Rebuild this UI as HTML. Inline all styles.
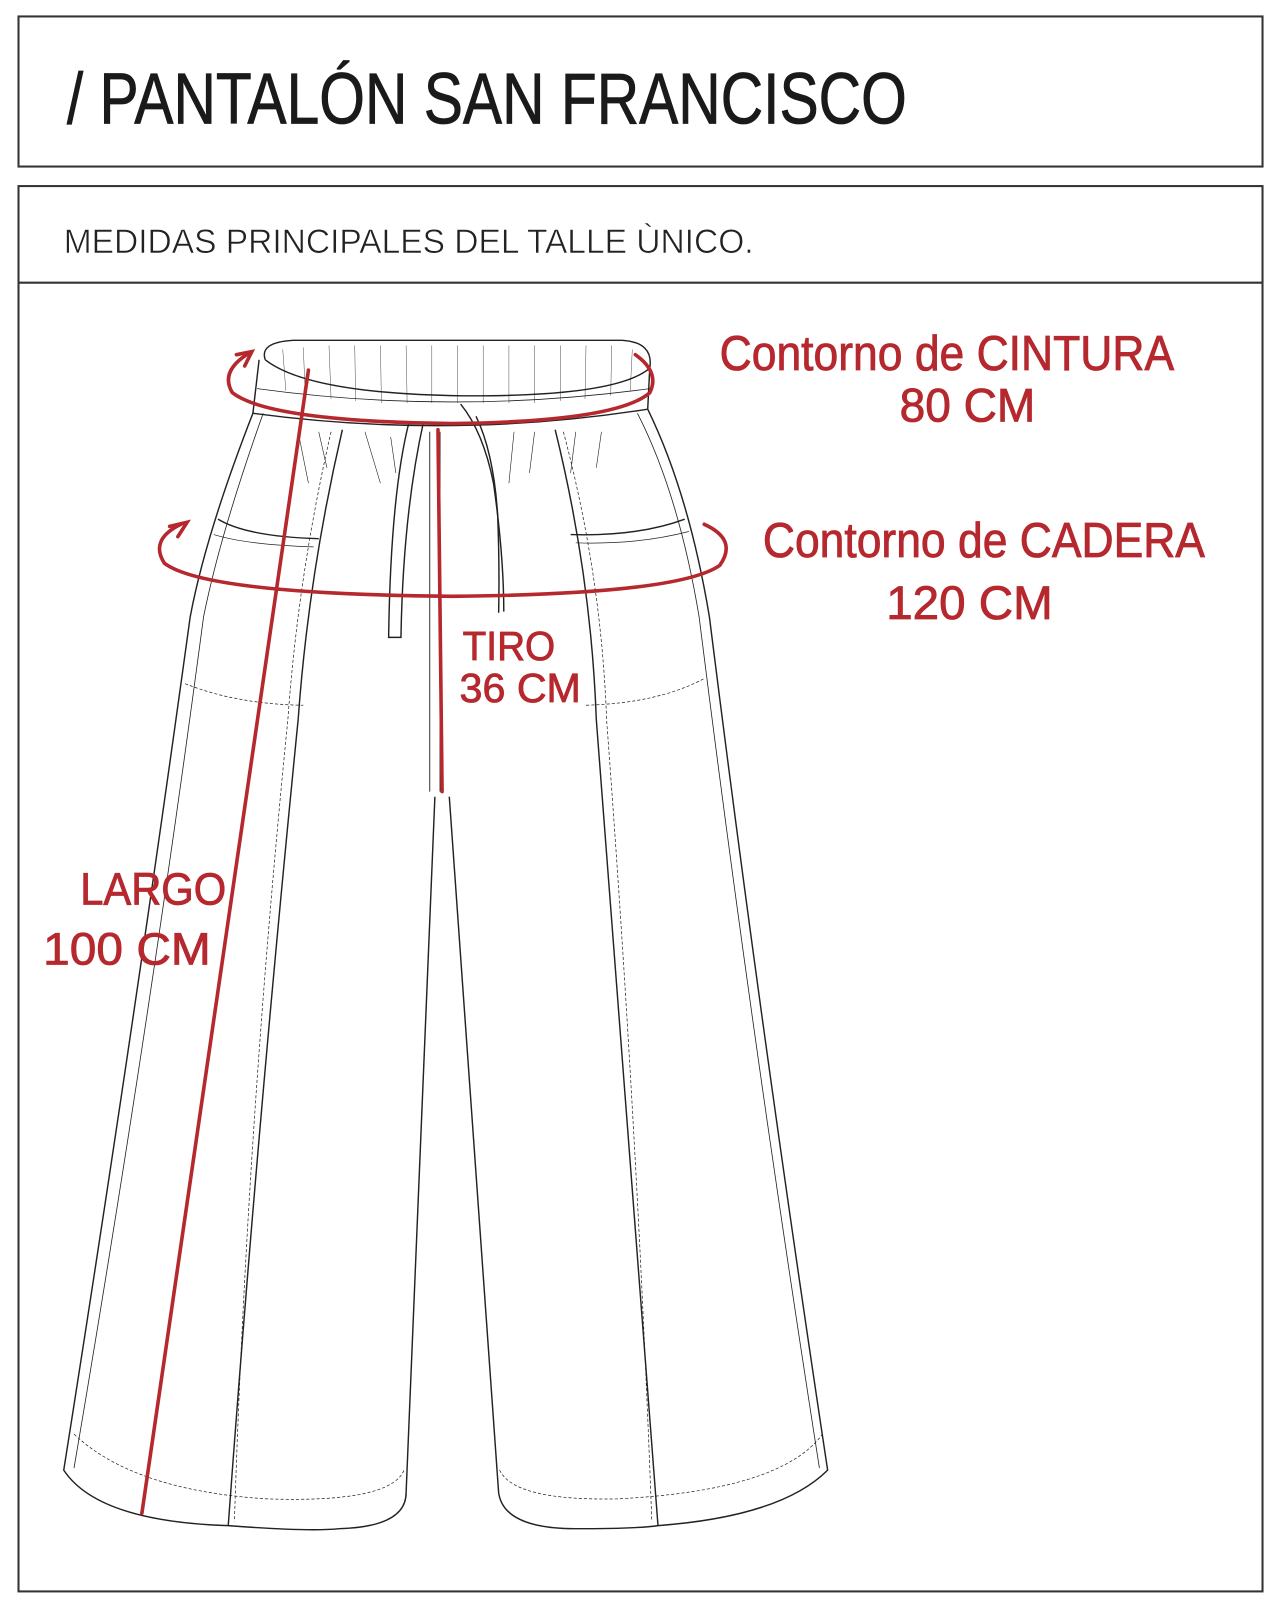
<!DOCTYPE html>
<html><head><meta charset="utf-8"><style>
html,body{margin:0;padding:0;background:#fff;}
svg{display:block;}
</style></head><body>
<svg width="1280" height="1613" viewBox="0 0 1245 1569" preserveAspectRatio="none" xmlns="http://www.w3.org/2000/svg">
<g fill="none" stroke="#333" stroke-width="2">
<rect x="18" y="16" width="1210" height="146"/>
<rect x="18" y="181" width="1210" height="1367"/>
<line x1="18" y1="275" x2="1228" y2="275"/>
</g>
<text x="65" y="120" font-family="Liberation Sans, sans-serif" font-size="70" fill="#1a1a1a" stroke="#1a1a1a" stroke-width="0.8" textLength="817" lengthAdjust="spacingAndGlyphs">/ PANTALÓN SAN FRANCISCO</text>
<text x="62" y="246" font-family="Liberation Sans, sans-serif" font-size="33" fill="#222" stroke="#fff" stroke-width="0.6" textLength="671" lengthAdjust="spacingAndGlyphs">MEDIDAS PRINCIPALES DEL TALLE ÙNICO.</text>

<g fill="none" stroke="#222" stroke-width="1.4">
<path d="M258,350 Q252,333 285,331 L605,331 Q636,333 632,358 L630,398"/>
<path d="M258,350 Q300,383 450,385 Q600,386 632,358"/>
<path d="M252,350 L246,402 Q440,428 630,398"/>
<path d="M250,378 Q440,404 632,378" stroke-width="0.8"/>
<path d="M246,402 Q200,520 185,600 Q130,1000 62,1430 Q95,1480 222,1484 Q300,1490 330,1487 Q395,1485 395,1452 L423,775"/>
<path d="M437,775 L485,1452 Q490,1487 560,1487 Q620,1487 640,1484 Q760,1475 805,1430 Q740,1000 690,600 Q670,480 630,398"/>
<path d="M256,402 Q214,520 198,600 Q145,1000 72,1428" stroke-width="0.8"/>
<path d="M620,402 Q660,480 680,600 Q730,1000 797,1428" stroke-width="0.8"/>
<path d="M333,418 Q300,560 290,700 Q250,1100 222,1484"/>
<path d="M540,418 Q575,560 580,700 Q610,1100 640,1484"/>
<path d="M322,420 Q290,560 280,700 Q240,1100 228,1480" stroke-dasharray="3,2" stroke-width="0.7"/>
<path d="M548,420 Q585,560 590,700 Q620,1100 634,1480" stroke-dasharray="3,2" stroke-width="0.7"/>
<path d="M212,505 Q240,522 310,524"/>
<path d="M208,520 Q240,530 305,532" stroke-width="0.7"/>
<path d="M555,520 Q620,522 666,505"/>
<path d="M560,528 Q620,530 670,517" stroke-width="0.7"/>
<path d="M398,410 Q380,480 378,620 L390,620 Q392,500 412,410"/>
<path d="M448,393 Q470,420 480,470 Q490,540 490,595"/>
<path d="M463,405 Q480,440 484,500 Q486,550 485,596"/>
<path d="M418,420 L418,770 M428,420 L428,770" stroke-width="0.9"/>
<path d="M180,665 Q230,685 295,686" stroke-dasharray="3,2" stroke-width="0.7"/>
<path d="M570,686 Q640,684 685,660" stroke-dasharray="3,2" stroke-width="0.7"/>
<path d="M72,1395 Q130,1450 260,1458 Q380,1462 393,1430" stroke-dasharray="3,2" stroke-width="0.7"/>
<path d="M486,1430 Q500,1460 600,1458 Q760,1450 800,1395" stroke-dasharray="3,2" stroke-width="0.7"/>
<path d="M290,420 L300,470 M310,420 L318,455 M355,420 L370,470 M380,425 L385,460 M500,420 L495,470 M520,420 L515,460 M560,420 L555,460 M585,420 L580,455" stroke-width="0.6"/>
<path d="M275,340 L278,380 M295,338 L297,385 M320,336 L322,388 M345,336 L346,390 M370,336 L371,392 M395,336 L396,392 M420,336 L420,392 M445,336 L445,392 M470,336 L470,392 M495,336 L495,392 M520,336 L520,392 M545,336 L545,390 M570,336 L569,388 M595,336 L594,385 M615,340 L613,380" stroke-width="0.4"/>
</g>

<g fill="none" stroke="#b5282e" stroke-width="3.5" stroke-linecap="round">
<line x1="300" y1="360" x2="138" y2="1472"/>
<line x1="426" y1="418" x2="430" y2="770"/>
<path d="M618,345 Q642,362 632,382 Q600,410 440,412 Q262,410 226,382 Q214,362 240,345"/>
<path d="M230,345 L245,342 L238,356"/>
<path d="M685,510 Q718,525 700,550 Q660,578 440,580 Q200,578 160,548 Q145,525 176,510"/>
<path d="M165,512 L182,508 L173,522"/>
</g>

<g fill="#b5282e" stroke="#b5282e" stroke-width="0.8" font-family="Liberation Sans, sans-serif">
<text x="700" y="360" font-size="48" textLength="442" lengthAdjust="spacingAndGlyphs">Contorno de CINTURA</text>
<text x="875" y="410" font-size="46" textLength="132" lengthAdjust="spacingAndGlyphs">80 CM</text>
<text x="742" y="542" font-size="48" textLength="430" lengthAdjust="spacingAndGlyphs">Contorno de CADERA</text>
<text x="862" y="602" font-size="46" textLength="162" lengthAdjust="spacingAndGlyphs">120 CM</text>
<text x="450" y="642" font-size="40" textLength="90" lengthAdjust="spacingAndGlyphs">TIRO</text>
<text x="447" y="683" font-size="40" textLength="118" lengthAdjust="spacingAndGlyphs">36 CM</text>
<text x="78" y="880" font-size="44" textLength="142" lengthAdjust="spacingAndGlyphs">LARGO</text>
<text x="42" y="938" font-size="44" textLength="163" lengthAdjust="spacingAndGlyphs">100 CM</text>
</g>
</svg>
</body></html>
